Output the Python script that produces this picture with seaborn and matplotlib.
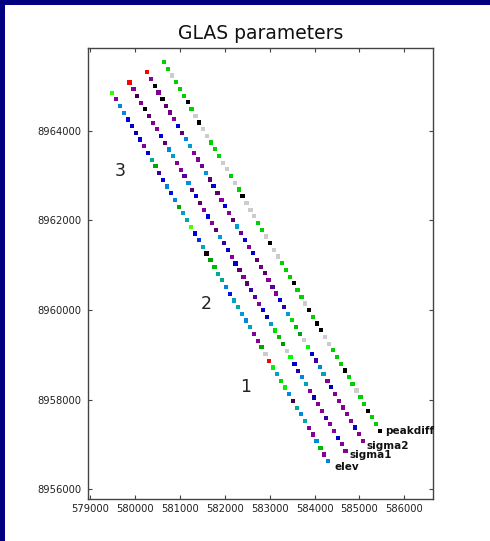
"""
GLAS parameters along the ground track - four copies of the same shots,
shifted sideways, each coloured by one parameter (nipy_spectral scale).
Saves out.png (490x541 px).
"""

import matplotlib
matplotlib.use("Agg")
import matplotlib.pyplot as plt
from matplotlib.patches import Rectangle
from matplotlib.ticker import FormatStrFormatter
import numpy as np
import pandas as pd
import seaborn as sns

# shot positions of the elev track (UTM easting / northing, m)
easting = [579497, 579584, 579672, 579759, 579847, 579934, 580022, 580109, 580197, 580284,
           580372, 580459, 580546, 580634, 580721, 580809, 580896, 580984, 581071, 581159,
           581246, 581333, 581421, 581508, 581596, 581683, 581771, 581858, 581946, 582033,
           582121, 582208, 582295, 582383, 582470, 582558, 582645, 582733, 582820, 582908,
           582995, 583082, 583170, 583257, 583345, 583432, 583520, 583607, 583695, 583782,
           583870, 583957, 584044, 584132, 584219, 584307]
northing = [8964853, 8964703, 8964554, 8964404, 8964254, 8964105, 8963955, 8963806, 8963656, 8963507,
            8963357, 8963207, 8963058, 8962908, 8962759, 8962609, 8962459, 8962310, 8962160, 8962011,
            8961861, 8961711, 8961562, 8961412, 8961263, 8961113, 8960963, 8960814, 8960664, 8960515,
            8960365, 8960215, 8960066, 8959916, 8959767, 8959617, 8959467, 8959318, 8959168, 8959019,
            8958869, 8958719, 8958570, 8958420, 8958271, 8958121, 8957971, 8957822, 8957672, 8957523,
            8957373, 8957223, 8957074, 8956924, 8956775, 8956625]

# the other parameters are drawn as copies of the track shifted sideways
params = ["elev", "sigma1", "sigma2", "peakdiff"]
shift_e = [0, 384, 768, 1152]
shift_n = [0, 227, 454, 681]

# scaled value per shot (0..1 on the colour scale, 1.0 = grey top end)
elev = [0.61, 0.08, 0.28, 0.28, 0.20, 0.18, 0.16, 0.20, 0.09, 0.19,
        0.38, 0.47, 0.13, 0.20, 0.27, 0.21, 0.27, 0.47, 0.32, 0.36,
        0.62, 0.20, 0.22, 0.34, 0.01, 0.46, 0.50, 0.37, 0.40, 0.27,
        0.21, 0.33, 0.35, 0.30, 0.28, 0.33, 0.09, 0.10, 0.47, 1.00,
        0.85, 0.58, 0.33, 0.55, 0.58, 0.28, 0.03, 0.36, 0.28, 0.36,
        0.09, 0.10, 0.28, 0.50, 0.09, 0.27]
sigma1 = [0.85, 0.09, 0.03, 0.08, 0.00, 0.04, 0.08, 0.10, 0.20, 0.04,
          0.27, 0.32, 0.10, 0.09, 0.12, 0.29, 0.04, 0.19, 0.04, 0.09,
          0.20, 0.10, 0.04, 0.31, 0.13, 0.19, 0.10, 0.19, 0.04, 0.09,
          0.04, 0.13, 0.12, 0.10, 0.19, 0.16, 0.31, 0.55, 0.50, 0.45,
          1.00, 0.60, 0.19, 0.14, 0.27, 0.33, 0.09, 0.16, 0.09, 0.10,
          0.13, 0.09, 0.10, 0.19, 0.09, 0.10]
sigma2 = [0.85, 0.09, 0.00, 0.08, 0.00, 0.04, 0.05, 0.10, 0.20, 0.04,
          0.27, 0.32, 0.10, 0.09, 0.11, 0.30, 0.04, 0.19, 0.04, 0.09,
          0.20, 0.10, 0.04, 0.31, 0.11, 0.19, 0.10, 0.19, 0.04, 0.05,
          0.04, 0.10, 0.12, 0.10, 0.19, 0.14, 0.31, 0.55, 0.50, 0.44,
          1.00, 0.60, 0.18, 0.13, 0.27, 0.33, 0.09, 0.16, 0.09, 0.10,
          0.10, 0.09, 0.10, 0.19, 0.09, 0.10]
peakdiff = [0.53, 0.53, 1.00, 0.53, 0.53, 0.53, 0.00, 0.53, 1.00, 0.00,
            1.00, 1.00, 0.53, 0.53, 0.53, 1.00, 1.00, 0.53, 1.00, 0.53,
            0.00, 1.00, 1.00, 1.00, 0.53, 0.53, 1.00, 0.00, 1.00, 1.00,
            0.53, 0.53, 0.53, 0.00, 0.53, 0.53, 1.00, 0.00, 0.53, 0.00,
            0.00, 1.00, 1.00, 0.53, 0.53, 0.53, 0.00, 0.53, 0.53, 1.00,
            0.53, 0.53, 0.00, 0.53, 0.53, 0.00]

# offsets of the end labels (px right, px down)
label_dx = [6, 4, 3.7, 4.7]
label_dy = [5.4, 4, 4.7, 0]

# numbered markers next to the track
mark_labels = ["1", "2", "3"]
mark_e = [582474, 581584, 579675]
mark_n = [8958277, 8960129, 8963112]

x_ticks = [579000, 580000, 581000, 582000, 583000, 584000, 585000, 586000]
y_ticks = [8956000, 8958000, 8960000, 8962000, 8964000]

values = {"elev": elev, "sigma1": sigma1, "sigma2": sigma2, "peakdiff": peakdiff}
frames = []
for p, de, dn in zip(params, shift_e, shift_n):
    frames.append(pd.DataFrame({
        "easting": np.array(easting) + de,
        "northing": np.array(northing) + dn,
        "value": values[p],
        "param": p,
    }))
df = pd.concat(frames, ignore_index=True)

sns.set_style("ticks")
plt.rcParams["font.family"] = ["DejaVu Sans"]

fig = plt.figure(figsize=(4.9, 5.41), dpi=100)
fig.patch.set_facecolor("white")
# navy window frame (top and left only)
fig.patches.append(Rectangle((0, 1 - 5 / 541), 1, 5 / 541, transform=fig.transFigure,
                             facecolor="#000080", edgecolor="none", zorder=0))
fig.patches.append(Rectangle((0, 0), 5 / 490, 1, transform=fig.transFigure,
                             facecolor="#000080", edgecolor="none", zorder=0))

ax = fig.add_axes([0.1806, 0.0771, 0.7037, 0.8333])
sns.scatterplot(data=df, x="easting", y="northing", hue="value", palette="nipy_spectral",
                hue_norm=(0, 1), marker="s", s=9, linewidth=0, legend=False, ax=ax)

for p, dx, dy in zip(params, label_dx, label_dy):
    last = df[df["param"] == p].iloc[-1]
    ax.annotate(p, (last["easting"], last["northing"]), xytext=(dx, -dy),
                textcoords="offset pixels", ha="left", va="center",
                fontsize=7.5, fontweight="bold", color="#111111")

for t, e, n in zip(mark_labels, mark_e, mark_n):
    ax.text(e, n, t, fontsize=12.5, ha="center", va="center", color="#222222")

ax.set_xlim(578967, 586645)
ax.set_ylim(8955777, 8965839)
ax.set_xticks(x_ticks)
ax.set_yticks(y_ticks)
ax.xaxis.set_major_formatter(FormatStrFormatter("%d"))
ax.yaxis.set_major_formatter(FormatStrFormatter("%d"))
ax.set_xlabel("")
ax.set_ylabel("")
ax.tick_params(direction="in", top=True, right=True, length=3, width=0.8,
               labelsize=7.2, labelcolor="#222222", color="#444444")
ax.tick_params(axis="x", pad=3.5)
ax.tick_params(axis="y", pad=5)
for sp in ax.spines.values():
    sp.set_color("#444444")
    sp.set_linewidth(1.0)
ax.set_title("GLAS parameters", fontsize=13.5, pad=7, color="#111111")

fig.savefig("out.png", dpi=100)
plt.close(fig)
